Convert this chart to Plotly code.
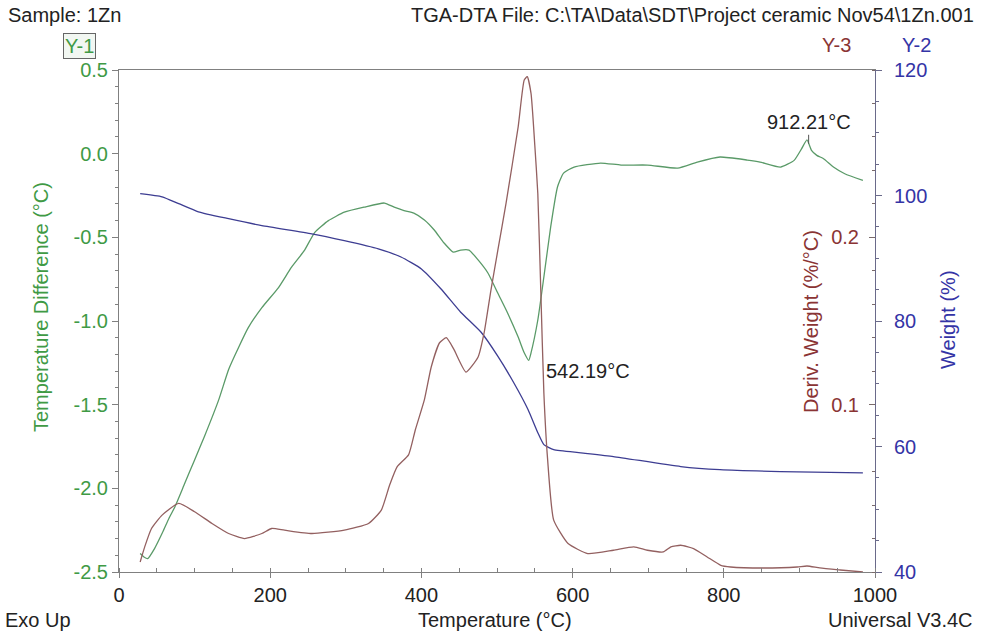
import numpy as np
import plotly.graph_objects as go

# ---------------- data ----------------
dta_T = [28, 33, 38, 47, 58, 66, 74, 87, 100, 113, 132, 145, 158, 171, 189, 211, 228, 245,
         259, 277, 298, 324, 351, 364, 377, 390, 404, 417, 430, 442, 452, 463, 475, 488,
         501, 514, 528, 536, 542, 545, 554, 562, 571, 580, 588, 602, 637, 664, 699, 739,
         765, 795, 831, 848, 875, 893, 903, 910, 916, 923, 932, 945, 960, 984]
dta_Y = [-2.39, -2.41, -2.42, -2.36, -2.26, -2.18, -2.11, -1.97, -1.83, -1.69, -1.47, -1.29,
         -1.16, -1.04, -0.92, -0.80, -0.68, -0.58, -0.47, -0.40, -0.35, -0.32, -0.295, -0.32,
         -0.34, -0.355, -0.396, -0.456, -0.534, -0.588, -0.576, -0.576, -0.635, -0.713,
         -0.833, -0.952, -1.096, -1.19, -1.235, -1.19, -0.994, -0.737, -0.438, -0.199,
         -0.116, -0.08, -0.056, -0.068, -0.068, -0.086, -0.05, -0.02, -0.038, -0.05, -0.08,
         -0.04, 0.03, 0.082, 0.02, -0.01, -0.03, -0.08, -0.12, -0.16]

wt_T = [28, 57, 79, 105, 145, 189, 255, 298, 343, 373, 400, 426, 452, 479, 501, 522, 541,
        554, 562, 575, 611, 654, 743, 795, 875, 984]
wt_W = [100.3, 99.8, 98.7, 97.4, 96.3, 95.2, 93.9, 92.8, 91.5, 90.2, 88.3, 85.1, 81.4, 78.2,
        74.4, 70.2, 65.9, 62.2, 60.3, 59.5, 59.0, 58.4, 56.8, 56.3, 56.0, 55.8]

dw_T = [28, 34, 43, 57, 79, 100, 123, 145, 166, 189, 202, 219, 255, 298, 330, 347, 358, 368,
        383, 392, 404, 413, 424, 433, 443, 459, 475, 483, 492, 501, 512, 528, 536, 540, 545,
        550, 554, 558, 562, 567, 575, 594, 620, 654, 681, 699, 720, 730, 743, 760, 778, 796,
        809, 852, 897, 910, 927, 954, 984]
dw_D = [0.006, 0.015, 0.026, 0.034, 0.041, 0.036, 0.029, 0.023, 0.020, 0.023, 0.026, 0.025,
        0.023, 0.025, 0.029, 0.037, 0.052, 0.063, 0.070, 0.085, 0.103, 0.1225, 0.137, 0.140,
        0.133, 0.1195, 0.1285, 0.143, 0.1685, 0.192, 0.2205, 0.266, 0.294, 0.296, 0.286,
        0.255, 0.226, 0.167, 0.107, 0.067, 0.031, 0.017, 0.011, 0.013, 0.015, 0.013, 0.012,
        0.015, 0.016, 0.014, 0.009, 0.004, 0.003, 0.0024, 0.003, 0.0036, 0.0024, 0.0012, 0.0]

x_ticks = [0, 200, 400, 600, 800, 1000]
dta_ticks = [0.5, 0.0, -0.5, -1.0, -1.5, -2.0, -2.5]
dta_ticktext = ["0.5", "0.0", "-0.5", "-1.0", "-1.5", "-2.0", "-2.5"]
peak_labels = [542.19, 912.21]

# ---------------- styling ----------------
FONT = "Liberation Sans, Arial, sans-serif"
FS = 20
GREEN_LINE = "#5a9a68"
GREEN_TXT = "#3f9a45"
BLUE_LINE = "#3d3d92"
BLUE_TXT = "#3434a6"
BROWN_LINE = "#936060"
BROWN_TXT = "#8a3434"
AXIS = "#808080"

fig = go.Figure()
fig.add_trace(go.Scatter(x=dta_T, y=dta_Y, mode="lines", yaxis="y",
                         line=dict(color=GREEN_LINE, width=1.3, shape="spline", smoothing=0.5)))
fig.add_trace(go.Scatter(x=wt_T, y=wt_W, mode="lines", yaxis="y2",
                         line=dict(color=BLUE_LINE, width=1.3, shape="spline", smoothing=0.5)))
fig.add_trace(go.Scatter(x=dw_T, y=dw_D, mode="lines", yaxis="y3",
                         line=dict(color=BROWN_LINE, width=1.3, shape="spline", smoothing=0.5)))

tickfont = dict(family=FONT, size=FS)

fig.update_layout(
    width=982, height=635,
    margin=dict(l=119, r=107, t=70, b=63, autoexpand=False),
    paper_bgcolor="white", plot_bgcolor="white",
    showlegend=False,
    xaxis=dict(range=[0, 1000], tickmode="array", tickvals=x_ticks, showgrid=False,
               zeroline=False, showline=True, linecolor=AXIS, linewidth=1, mirror=True,
               ticks="outside", ticklen=5, tickcolor=AXIS,
               minor=dict(tickmode="linear", tick0=0, dtick=50, ticks="inside", ticklen=4,
                          tickcolor=AXIS),
               tickfont=dict(tickfont, color="#222222")),
    yaxis=dict(range=[-2.5, 0.5], tickmode="array", tickvals=dta_ticks, ticktext=dta_ticktext,
               showgrid=False, zeroline=False,
               showline=True, linecolor=AXIS, linewidth=1,
               ticks="outside", ticklen=6, tickcolor=AXIS,
               minor=dict(tickmode="linear", tick0=0, dtick=0.1, ticks="outside", ticklen=3,
                          tickcolor=AXIS),
               tickfont=dict(tickfont, color=GREEN_TXT)),
    yaxis2=dict(range=[40, 120], dtick=20, overlaying="y", side="right", showgrid=False,
                zeroline=False, showline=True, linecolor="#6a6a8a", linewidth=1,
                ticks="outside", ticklen=6, tickcolor="#6a6a8a", ticklabelstandoff=8,
                minor=dict(dtick=5, ticks="outside", ticklen=3, tickcolor="#6a6a8a"),
                tickfont=dict(tickfont, color=BLUE_TXT)),
    yaxis3=dict(range=[0, 0.3], tickmode="array", tickvals=[0.1, 0.2], tickformat=".1f",
                overlaying="y", anchor="free", position=1, side="left", showgrid=False,
                zeroline=False, showline=False,
                ticks="outside", ticklen=6, tickcolor="#7a6a6a", ticklabelstandoff=6,
                minor=dict(tickmode="linear", tick0=0, dtick=0.02, ticks="outside", ticklen=3,
                           tickcolor="#7a6a6a"),
                tickfont=dict(tickfont, color=BROWN_TXT)),
)

def ann(text, x, y, color="#222222", size=FS, xanchor="center", yanchor="middle",
        xshift=0, yshift=0, angle=0, **kw):
    fig.add_annotation(text=text, x=x, y=y, xref="paper", yref="paper", showarrow=False,
                       font=dict(family=FONT, size=size, color=color), xanchor=xanchor,
                       yanchor=yanchor, xshift=xshift, yshift=yshift, textangle=angle, **kw)

# header / footer texts
ann("Sample: 1Zn", 0, 1, xanchor="left", xshift=-113, yshift=55)
ann("TGA-DTA File: C:\\TA\\Data\\SDT\\Project ceramic Nov54\\1Zn.001", 1, 1,
    xanchor="right", xshift=101, yshift=55)
ann("Y-1", 0, 1, color=GREEN_TXT, xshift=-40, yshift=24, bordercolor="#666666",
    borderwidth=1, borderpad=1, bgcolor="#f2f7f2")
ann("Y-3", 1, 1, color=BROWN_TXT, xshift=-39, yshift=25)
ann("Y-2", 1, 1, color=BLUE_TXT, xshift=41, yshift=25)
ann("Exo Up", 0, 0, xanchor="left", xshift=-116, yshift=-48)
ann("Temperature (°C)", 0.497, 0, yshift=-48)
ann("Universal V3.4C", 1, 0, xanchor="right", xshift=100, yshift=-48)

# axis titles
ann("Temperature Difference (°C)", 0, 0.5, color=GREEN_TXT, angle=-90, xshift=-78, yshift=14)
ann("Weight (%)", 1, 0.5, color=BLUE_TXT, angle=-90, xshift=73, yshift=1)
ann("Deriv. Weight (%/°C)", 1, 0.5, color=BROWN_TXT, angle=-90, xshift=-64, yshift=-1)

# peak labels on the DTA curve
p1 = peak_labels[0]
y1 = float(np.interp(p1, dta_T, dta_Y))
fig.add_annotation(text=f"{p1:.2f}°C", x=p1, y=y1, xref="x", yref="y", showarrow=False,
                   xanchor="left", yanchor="middle", xshift=15, yshift=-11,
                   font=dict(family=FONT, size=FS, color="#222222"))
p2 = peak_labels[1]
y2 = float(np.interp(p2, dta_T, dta_Y))
fig.add_annotation(text=f"{p2:.2f}°C", x=p2, y=y2, xref="x", yref="y", showarrow=True,
                   arrowhead=0, arrowwidth=1, arrowcolor="#555555", ax=0, ay=-9,
                   xanchor="center", yanchor="bottom",
                   font=dict(family=FONT, size=FS, color="#222222"))

fig.write_html("out.html", config={"displayModeBar": False},
               post_script="document.body.style.margin='0px';")
